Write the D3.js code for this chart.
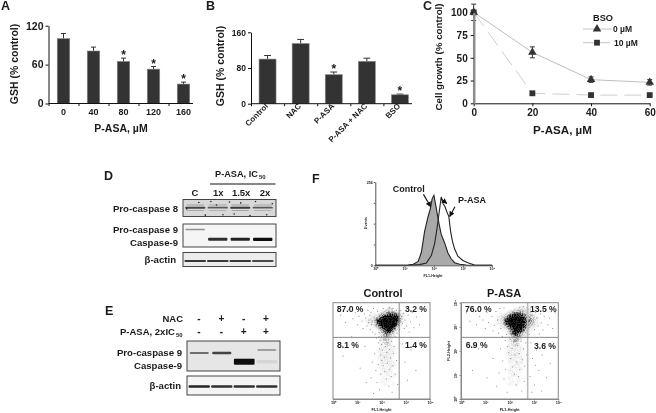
<!DOCTYPE html>
<html>
<head>
<meta charset="utf-8">
<script src="https://cdn.jsdelivr.net/npm/d3@7"></script>
<style>
html,body{margin:0;padding:0;background:#fff}
svg{display:block;filter:blur(0.35px)}
text{font-family:"Liberation Sans",Arial,sans-serif;font-weight:bold;fill:#1a1a1a}
</style>
</head>
<body>
<svg id="fig" width="656" height="413"></svg>
<script>
// ---------- panel A
const aCategories = ["0","40","80","120","160"];
const aValues = [100,81,65,53,30];
const aErrors = [8,6,5,4,3];
const aStars = [0,0,1,1,1];
const aTicks = [0,60,120];
// ---------- panel B
const bCategories = ["Control","NAC","P-ASA","P-ASA + NAC","BSO"];
const bValues = [100,135,65,95,20];
const bErrors = [8,9,6,7,1.5];
const bStars = [0,0,1,0,1];
const bTicks = [0,80,160];
// ---------- panel C
const cDoses = [0,20,40,60];
const c0uM = [100,56,26,23];
const c0uMErr = [9,6,3,3];
const c10uM = [100,11,9,9];
const c10uMErr = [1,2,1,1];
const cYTicks = [0,25,50,75,100];
// ---------- blots (band intensity per lane)
const dTop = ["C","1x","1.5x","2x"];
const dCasp8 = [.72,.62,.78,.62];
const dPro9 = [.42,0,0,0];
const dCasp9 = [0,.85,.9,1];
const dActin = [.8,.8,.8,.72];
const eNAC = ["-","+","-","+"];
const ePASA = ["-","-","+","+"];
const ePro9 = [.55,.75,0,.32];
const eCasp9 = [0,0,1,.07];
const eActin = [.9,.85,.85,.85];
// ---------- panel F histogram: [log10 FL1, count]
const histControl = [[0,0],[.39,0],[1.13,1],[1.3,3],[1.47,12],[1.58,40],[1.69,104],[1.81,150],[1.89,175],[1.95,205],[2.01,215],[2.09,175],[2.18,130],[2.26,95],[2.38,68],[2.49,38],[2.6,20],[2.72,8],[2.89,3],[3.11,1],[3.34,0],[4,0]];
const histPASA = [[0,0],[1.2,0],[1.52,2],[1.75,7],[1.92,30],[2.03,65],[2.11,110],[2.2,170],[2.26,210],[2.32,190],[2.39,180],[2.45,165],[2.52,150],[2.58,105],[2.64,75],[2.72,50],[2.83,28],[3,15],[3.17,8],[3.4,1],[3.6,0],[4,0]];
// ---------- panel F dot plots
const quadControl = ["87.0 %","3.2 %","8.1 %","1.4 %"];
const quadPASA = ["76.0 %","13.5 %","6.9 %","3.6 %"];
const densityControl = [
"00000000120000000",
"00000012332110000",
"00011134566521000",
"00111467899841000",
"01224789999941000",
"00112689999620000",
"00011368998310000",
"00000135774100000",
"00000024642000000",
"00000013421000000",
"00000012310000000",
"00000012210000000",
"00000011210000000",
"00000011111000000",
"00000111111000000",
"00000011111000000",
"00000111110000000",
"00000011110000000",
"00000011111000000",
"00000010111000000",
"00000011010000000",
"00000001110000000",
"00000010101000000",
"00000001010000000",
"00000010100000000",
"00000001001000000"];
const densityPASA = [
"00000000112110000",
"00000012333221000",
"00011246765432100",
"00112479998543210",
"00113789999654210",
"00112689999643210",
"00011358998531100",
"00000136886421000",
"00000025764210000",
"00000013542100000",
"00000012421000000",
"00000012310000000",
"00000011210000000",
"00000111111000000",
"00000011111000000",
"00000111110000000",
"00000011111000000",
"00000011101000000",
"00000010111000000",
"00000001110000000",
"00000010101000000",
"00000011010000000",
"00000001100000000",
"00000010010000000",
"00000001010000000",
"00000010100000000"];
const dotsControl = [[.3,3.5],[.5,3.2],[.62,3.72],[.8,3.35],[.9,3.6],[1,3.1],[1.05,3.45],[1.12,3.78],[1.18,3.25],[1.22,2.95],[1.28,3.55],[1.33,3.38],[1.38,3.05],[1.42,3.7],[1.45,3.2],[1.5,3.5],[1.52,2.9],[1.55,3.62],[1.58,3.12],[1.62,2.8],[1.65,3.78],[1.68,3.42],[1.72,2.72],[1.75,3.05],[1.78,2.55],[1.82,3.66],[1.85,2.35],[1.88,2.62],[1.9,2.1],[1.92,2.45],[1.95,1.85],[1.98,2.28],[2,1.62],[2.02,2.05],[2.05,1.4],[2.08,2.5],[2.1,1.75],[2.12,1.15],[2.15,2.2],[2.18,.85],[2.2,1.95],[2.22,1.5],[2.25,2.35],[2.28,.55],[2.3,1.25],[2.32,2.08],[2.35,1.72],[2.38,.95],[2.4,2.42],[2.42,.3],[2.45,1.4],[2.48,1.9],[2.5,2.2],[2.55,1.05],[2.6,1.62],[2.65,.62],[1.7,1.9],[1.75,1.2],[1.8,.7],[1.85,1.45],[1.9,.4],[1.95,1.05],[1.6,1.55],[1.55,.9],[1.65,.25],[2.78,3.7],[2.82,3.45],[2.85,3.15],[2.88,3.58],[2.92,2.95],[2.95,3.3],[3,3.75],[3.02,3.05],[3.08,3.5],[3.12,2.8],[3.18,3.22],[3.25,3.62],[3.32,2.98],[3.42,3.42],[3.55,3.1],[2.85,2.3],[2.95,1.55],[3.05,.8],[3.2,2.05],[3.4,1.2],[.75,2.6],[.4,1.8],[1.1,1.3],[1.3,2.2],[1.35,.7],[2.05,3.78],[2.3,3.82],[2.45,3.78],[2.6,3.7],[2.7,3.2],[2.72,2.9],[2.62,2.75],[2.55,2.6],[1.98,2.6],[1.88,2.78]];
const dotsPASA = [[.2,3.6],[.35,3.25],[.5,3.75],[.62,3.1],[.75,3.45],[.88,3.3],[.98,2.95],[1.05,3.62],[1.12,3.2],[1.2,3.78],[1.25,3.45],[1.3,2.85],[1.35,3.08],[1.42,3.65],[1.48,3.3],[1.52,2.75],[1.58,3.78],[1.62,2.95],[1.68,2.62],[1.75,3.8],[1.8,2.45],[1.85,2.7],[1.9,2.2],[1.95,1.95],[2,2.5],[2.02,1.7],[2.08,2.12],[2.1,1.35],[2.15,2.4],[2.18,1.05],[2.2,1.85],[2.25,.6],[2.28,1.55],[2.3,2.25],[2.35,.95],[2.38,1.9],[2.4,1.25],[2.45,2.42],[2.48,.35],[2.5,1.65],[2.55,2.1],[2.58,.75],[2.6,1.38],[2.65,2.35],[2.68,1.85],[1.7,1.6],[1.75,.85],[1.82,1.25],[1.88,.3],[1.6,2.1],[1.55,1.1],[1.45,.55],[1.3,1.7],[1.05,.9],[.7,2.1],[.45,1.2],[2.82,3.75],[2.88,3.5],[2.95,3.25],[3,2.9],[3.05,3.62],[3.1,3.38],[3.15,3.05],[3.2,2.72],[3.25,3.55],[3.28,3.18],[3.35,2.88],[3.4,3.45],[3.48,3.72],[3.55,3.1],[3.62,3.38],[3.75,2.95],[3.85,3.6],[2.85,2.35],[2.92,1.7],[3,.6],[3.08,2.05],[3.18,1.2],[3.3,.35],[3.32,1.85],[3.45,2.3],[3.5,.9],[3.65,1.5],[2.82,.95],[2.9,.3],[3.05,1.42],[2.72,2.55],[2.78,2.7],[2.4,3.82],[2.55,3.85],[2.7,3.82]];
const speckles = [[.17,.18],[.3,.12],[.36,.32],[.43,.9],[.62,.2],[.78,.12],[.55,.85],[.9,.9],[.04,.55],[.96,.25],[.72,.95],[.24,.92],[.5,.15]];

const svg = d3.select("#fig");
const text = (g,x,y,s,size,anchor) => g.append("text").attr("x",x).attr("y",y).attr("font-size",size).attr("text-anchor",anchor||"start").text(s);
const styleAxis = (g,size) => {
  g.selectAll("path,line").attr("stroke","#111").attr("stroke-width",1);
  g.selectAll("text").attr("font-size",size).attr("fill","#1a1a1a");
};
const defs = svg.append("defs");
defs.append("filter").attr("id","b1").attr("x","-30%").attr("y","-150%").attr("width","160%").attr("height","400%")
  .append("feGaussianBlur").attr("stdDeviation",.6);
defs.append("filter").attr("id","coreBlur").attr("x","-20%").attr("y","-20%").attr("width","140%").attr("height","140%")
  .append("feGaussianBlur").attr("stdDeviation",1.1);
const grain = defs.append("filter").attr("id","grain").attr("x","-5%").attr("y","-5%").attr("width","110%").attr("height","110%");
grain.append("feGaussianBlur").attr("in","SourceGraphic").attr("stdDeviation",.9).attr("result","soft");
grain.append("feTurbulence").attr("type","fractalNoise").attr("baseFrequency",.8).attr("numOctaves",2).attr("seed",4).attr("result","noise");
grain.append("feColorMatrix").attr("in","noise").attr("type","matrix")
  .attr("values","0 0 0 0 0  0 0 0 0 0  0 0 0 0 0  6 0 0 0 -2.4").attr("result","mask");
grain.append("feComposite").attr("in","soft").attr("in2","mask").attr("operator","arithmetic").attr("k1",1.1).attr("k2",.4).attr("k3",0).attr("k4",0);
defs.append("marker").attr("id","ah").attr("viewBox","0 0 10 10").attr("refX",9).attr("refY",5)
  .attr("markerWidth",5).attr("markerHeight",5).attr("orient","auto")
  .append("path").attr("d","M0,0L10,5L0,10z").attr("fill","#111");

// panel letters
[["A",1,9.5],["B",206,9.5],["C",423,9.5],["D",104,180],["E",105,314.7],["F",312,182.7]].forEach(d=>text(svg,d[1],d[2],d[0],12.5));

// ---------- bar panels
function barPanel(o){
  const g = svg.append("g");
  const x = d3.scaleBand().domain(o.cats).range([o.x0,o.x0+o.band*o.cats.length]);
  const edges = d3.scaleLinear().domain([0,o.cats.length]).range([o.x0,o.x0+o.band*o.cats.length]);
  const y = d3.scaleLinear().domain([0,o.ticks[o.ticks.length-1]]).range([o.y0,o.y1]);
  const barX = d => x(d)+x.bandwidth()/2 - o.w/2;
  const cx = d => barX(d)+o.w/2;
  g.selectAll(".err").data(o.cats).join("line").attr("x1",cx).attr("x2",cx)
    .attr("y1",(d,i)=>y(o.vals[i])).attr("y2",(d,i)=>y(o.vals[i]+o.errs[i])).attr("stroke","#333").attr("stroke-width",1);
  g.selectAll(".cap").data(o.cats).join("line").attr("x1",d=>cx(d)-o.w*.2).attr("x2",d=>cx(d)+o.w*.2)
    .attr("y1",(d,i)=>y(o.vals[i]+o.errs[i])).attr("y2",(d,i)=>y(o.vals[i]+o.errs[i])).attr("stroke","#333").attr("stroke-width",1);
  g.selectAll(".bar").data(o.cats).join("rect").attr("x",barX).attr("width",o.w)
    .attr("y",(d,i)=>y(o.vals[i])).attr("height",(d,i)=>o.y0-y(o.vals[i]))
    .attr("fill","#333").attr("stroke","#8a8a8a").attr("stroke-width",.6);
  g.selectAll(".star").data(o.cats).join("text").attr("x",cx).attr("y",(d,i)=>y(o.vals[i]+o.errs[i])+1)
    .attr("text-anchor","middle").attr("font-size",12).text((d,i)=>o.stars[i]?"*":"");
  const ax = g.append("g").attr("transform",`translate(0,${o.y0})`)
    .call(d3.axisBottom(edges).tickValues(d3.range(o.cats.length)).tickSize(2.5).tickSizeOuter(0).tickFormat(""));
  ax.select("path").attr("d",`M${o.x0},0H${o.xEnd}`);
  styleAxis(ax,10);
  const yA = g.append("g").attr("transform",`translate(${o.x0},0)`)
    .call(d3.axisLeft(y).tickValues(o.ticks).tickSize(3).tickSizeOuter(0).tickPadding(2));
  styleAxis(yA,o.tickSize);
  const lab = g.append("g").attr("transform",`translate(0,${o.y0})`)
    .call(d3.axisBottom(x).tickSize(0).tickPadding(o.pad));
  lab.select("path").remove();
  lab.selectAll("text").attr("font-size",o.catSize).attr("fill","#1a1a1a");
  if(o.rot){
    lab.selectAll("text").attr("text-anchor","end").attr("dy",0)
      .attr("transform",`translate(1,${o.pad-2}) rotate(-45) translate(0,${-o.pad})`);
  }
  text(g,0,0,"GSH (% control)",o.titleSize,"middle").attr("transform",`translate(${o.tx},${o.ty}) rotate(-90)`);
  return g;
}
const gA = barPanel({cats:aCategories,vals:aValues,errs:aErrors,stars:aStars,ticks:aTicks,x0:48.5,band:30,xEnd:193,y0:103.5,y1:25.7,w:12.5,tickSize:10.5,catSize:9,pad:5,tx:18,ty:64,titleSize:10.5});
text(gA,121,132,"P-ASA, µM",10.5,"middle");
barPanel({cats:bCategories,vals:bValues,errs:bErrors,stars:bStars,ticks:bTicks,x0:251,band:33.1,xEnd:412,y0:103.7,y1:32.3,w:17,tickSize:8.5,catSize:8,pad:5,rot:true,tx:224,ty:66,titleSize:10.5});

// ---------- panel C
const gC = svg.append("g");
const xC = d3.scaleLinear().domain([0,60]).range([473.7,649.7]);
const yC = d3.scaleLinear().domain([0,100]).range([103.3,12.3]);
const lineC = vals => d3.line().x((d,i)=>xC(cDoses[i])).y(d=>yC(d))(vals);
gC.append("path").attr("d",lineC(c0uM)).attr("fill","none").attr("stroke","#bdbdbd").attr("stroke-width",1);
gC.append("path").attr("d",lineC(c10uM)).attr("fill","none").attr("stroke","#cfcfcf").attr("stroke-width",1).attr("stroke-dasharray","17 7");
const triangle = d3.symbol().type(d3.symbolTriangle).size(32);
const square = d3.symbol().type(d3.symbolSquare).size(34);
[[c0uM,c0uMErr],[c10uM,c10uMErr]].forEach(([v,e])=>{
  const ge = gC.append("g").attr("stroke","#333").attr("stroke-width",1);
  cDoses.forEach((d,i)=>{
    ge.append("line").attr("x1",xC(d)).attr("x2",xC(d)).attr("y1",yC(v[i]-e[i])).attr("y2",yC(v[i]+e[i]));
    ge.append("line").attr("x1",xC(d)-2.5).attr("x2",xC(d)+2.5).attr("y1",yC(v[i]+e[i])).attr("y2",yC(v[i]+e[i]));
    ge.append("line").attr("x1",xC(d)-2.5).attr("x2",xC(d)+2.5).attr("y1",yC(v[i]-e[i])).attr("y2",yC(v[i]-e[i]));
  });
});
gC.selectAll(".tri").data(c0uM).join("path").attr("d",triangle).attr("fill","#333")
  .attr("transform",(d,i)=>`translate(${xC(cDoses[i])},${yC(d)})`);
gC.selectAll(".sq").data(c10uM).join("path").attr("d",square).attr("fill","#333")
  .attr("transform",(d,i)=>`translate(${xC(cDoses[i])},${yC(d)})`);
const axCx = gC.append("g").attr("transform","translate(0,103.3)")
  .call(d3.axisBottom(xC).tickValues(cDoses).tickSize(3).tickSizeOuter(0).tickPadding(3));
styleAxis(axCx,10);
const axCy = gC.append("g").attr("transform","translate(473.7,0)")
  .call(d3.axisLeft(yC).tickValues(cYTicks).tickSize(3).tickSizeOuter(0).tickPadding(3));
styleAxis(axCy,10);
axCy.select("path").attr("stroke","#8c8c8c").attr("stroke-width",2.5);
text(gC,0,0,"Cell growth (% control)",9.8,"middle").attr("transform","translate(442,57) rotate(-90)");
text(gC,562.5,134,"P-ASA, µM",11.6,"middle");
text(gC,593,20.5,"BSO",9.2);
gC.append("line").attr("x1",583).attr("x2",612).attr("y1",29).attr("y2",29).attr("stroke","#c4c4c4");
gC.append("path").attr("d",triangle).attr("fill","#333").attr("transform","translate(597,29)");
text(gC,613,32,"0 µM",8.5);
gC.append("line").attr("x1",583).attr("x2",612).attr("y1",42.7).attr("y2",42.7).attr("stroke","#c4c4c4").attr("stroke-dasharray","12 3");
gC.append("path").attr("d",square).attr("fill","#333").attr("transform","translate(597,42.7)");
text(gC,614,46,"10 µM",8.5);

// ---------- blots
function blot(o){
  const g = svg.append("g");
  const lanes = d3.scaleBand().domain(d3.range(4)).range(o.lanes);
  g.append("rect").attr("x",o.x).attr("y",o.y).attr("width",o.w).attr("height",o.h)
    .attr("fill",o.bg).attr("stroke","#444").attr("stroke-width",1);
  const inner = g.append("g");
  o.rows.forEach(r=>{
    inner.selectAll(null).data(r.v).join("rect")
      .attr("x",(d,i)=>lanes(i)+lanes.bandwidth()*(1-r.len)/2)
      .attr("width",lanes.bandwidth()*r.len)
      .attr("y",(d,i)=>r.y-(r.th*(.55+.45*d))/2+(r.dy?r.dy[i]:0))
      .attr("height",d=>r.th*(.55+.45*d))
      .attr("rx",1).attr("fill","#111").attr("opacity",d=>d).attr("filter","url(#b1)");
  });
  if(o.spk){
    const sx = d3.scaleLinear().range([o.x,o.x+o.w]);
    const sy = d3.scaleLinear().range([o.y,o.y+o.h]);
    g.selectAll(null).data(o.spk).join("circle").attr("cx",d=>sx(d[0])).attr("cy",d=>sy(d[1])).attr("r",.8).attr("fill","#222");
  }
  return g;
}
blot({x:183,y:199.5,w:93,h:17,bg:"#d8d8d8",lanes:[184,274],spk:speckles,rows:[
  {v:dCasp8,y:207.7,th:2.2,len:.9},
  {v:dCasp8.map(d=>d*.4),y:205,th:1.4,len:.82},
  {v:dCasp8.map(d=>d*.3),y:210.5,th:1.2,len:.8}]});
blot({x:183,y:224,w:93,h:23,bg:"#f5f5f5",lanes:[184,274],rows:[
  {v:dPro9,y:229.5,th:2.2,len:.88},{v:dCasp9,y:239.3,th:3.2,len:.86}]});
blot({x:183,y:252.5,w:93,h:14,bg:"#ececec",lanes:[184,274],rows:[{v:dActin,y:261,th:2.2,len:.96}]});
blot({x:187,y:341,w:93,h:30,bg:"#e6e6e6",lanes:[188,278],rows:[
  {v:ePro9,y:353,th:2.6,len:.85,dy:[0,0,0,-3]},{v:eCasp9,y:361.7,th:6,len:.92}]});
blot({x:187,y:376,w:93,h:19,bg:"#f4f4f4",lanes:[188,278],rows:[{v:eActin,y:386.5,th:2.6,len:.95}]});

const gD = svg.append("g");
text(gD,215,177,"P-ASA, IC",9.2);
text(gD,259,179,"50",6);
gD.append("line").attr("x1",210).attr("x2",275.5).attr("y1",184).attr("y2",184).attr("stroke","#111");
const dLanes = d3.scalePoint().domain(dTop).range([195,265]);
gD.selectAll(null).data(dTop).join("text").attr("x",d=>dLanes(d)+(d==="1.5x"?-.5:0)).attr("y",195.5)
  .attr("text-anchor","middle").attr("font-size",9.5).text(d=>d);
text(gD,178,212,"Pro-caspase 8",9.6,"end");
text(gD,178,232.5,"Pro-caspase 9",9.6,"end");
text(gD,178,246,"Caspase-9",9.6,"end");
text(gD,176,263,"β-actin",9.6,"end");

const gE = svg.append("g");
const eLanes = d3.scalePoint().domain(d3.range(4)).range([199,266]);
text(gE,183,322,"NAC",9.5,"end");
text(gE,120,335,"P-ASA, 2xIC",9.5);
text(gE,176,337,"50",6);
gE.selectAll(null).data(eNAC).join("text").attr("x",(d,i)=>eLanes(i)).attr("y",322).attr("text-anchor","middle").attr("font-size",10).text(d=>d);
gE.selectAll(null).data(ePASA).join("text").attr("x",(d,i)=>eLanes(i)).attr("y",335).attr("text-anchor","middle").attr("font-size",10).text(d=>d);
text(gE,182,356,"Pro-caspase 9",9.6,"end");
text(gE,182,369,"Caspase-9",9.6,"end");
text(gE,181,389,"β-actin",9.6,"end");

// ---------- panel F histogram
const gH = svg.append("g");
const xH = d3.scaleLinear().domain([0,4]).range([375.3,492]);
const yH = d3.scaleLinear().domain([0,256]).range([265.3,182]);
const supers = ["⁰","¹","²","³","⁴"];
const area = d3.area().x(d=>xH(d[0])).y0(yH(0)).y1(d=>yH(d[1]));
const hline = d3.line().x(d=>xH(d[0])).y(d=>yH(d[1]));
gH.append("path").attr("d",area(histControl)).attr("fill","#a9a9a9");
gH.append("path").attr("d",hline(histControl)).attr("fill","none").attr("stroke","#222").attr("stroke-width",1.1);
gH.append("path").attr("d",hline(histPASA)).attr("fill","none").attr("stroke","#222").attr("stroke-width",1.1);
const hx = gH.append("g").attr("transform","translate(0,265.3)")
  .call(d3.axisBottom(xH).tickValues(d3.range(5)).tickSize(1.5).tickSizeOuter(0).tickPadding(1).tickFormat(d=>"10"+supers[d]));
styleAxis(hx,3.6);
const hy = gH.append("g").attr("transform","translate(375.3,0)")
  .call(d3.axisLeft(yH).tickValues([0,64,128,192,256]).tickSize(1.5).tickSizeOuter(0).tickPadding(1).tickFormat(d=>d===0||d===256?d:""));
styleAxis(hy,3.6);
hy.selectAll("path,line").attr("stroke","#555");
hx.selectAll("path,line").attr("stroke","#555");
text(gH,433,277,"FL1-Height",3.6,"middle");
text(gH,0,0,"Events",3.6,"middle").attr("transform","translate(367,223) rotate(-90)");
text(gH,392.7,192,"Control",9);
text(gH,458,203,"P-ASA",9);
const arrow = (a,b,c,e)=>gH.append("line").attr("x1",xH(a)).attr("y1",yH(b)).attr("x2",xH(c)).attr("y2",yH(e))
  .attr("stroke","#111").attr("stroke-width",1.1).attr("marker-end","url(#ah)");
arrow(1.65,218,1.9,180);
arrow(2.25,205,2.45,190);
arrow(2.73,180,2.55,150);

// ---------- panel F dot plots
function dotPlot(o){
  const g = svg.append("g");
  const x = d3.scaleLinear().domain([0,4]).range([o.x0,o.x1]);
  const y = d3.scaleLinear().domain([0,4]).range([399,302.7]);
  g.append("rect").attr("x",o.x0).attr("y",302.7).attr("width",o.x1-o.x0).attr("height",96.3).attr("fill","#fff");
  const cells = (host,op) => o.density.forEach((row,j)=>{
    host.selectAll(null).data(row.split("").map(Number)).join("rect")
      .attr("x",(d,i)=>x(1.25+.125*i-.0625)).attr("width",x(.125)-x(0))
      .attr("y",y(3.75-.125*j+.0625)).attr("height",y(0)-y(.125))
      .attr("fill","#000").attr("opacity",op);
  });
  cells(g.append("g").attr("filter","url(#grain)"), d=>Math.min(1,Math.pow(d/8,1.3)));
  cells(g.append("g").attr("filter","url(#coreBlur)"), d=>d>=7?.85:d>=5?.35:0);
  g.selectAll(null).data(o.dots).join("rect").attr("x",d=>x(d[0])).attr("y",d=>y(d[1]))
    .attr("width",.9).attr("height",.9).attr("fill","#777");
  g.append("line").attr("x1",x(o.vq)).attr("x2",x(o.vq)).attr("y1",302.7).attr("y2",399).attr("stroke",o.vColor).attr("stroke-width",o.vW);
  g.append("line").attr("x1",o.x0).attr("x2",o.x1).attr("y1",y(2.56)).attr("y2",y(2.56)).attr("stroke","#888");
  g.append("rect").attr("x",o.x0).attr("y",302.7).attr("width",o.x1-o.x0).attr("height",96.3).attr("fill","none").attr("stroke","#888");
  const ax = g.append("g").attr("transform","translate(0,399)")
    .call(d3.axisBottom(x).tickValues(d3.range(5)).tickSize(1.5).tickSizeOuter(0).tickPadding(1).tickFormat(d=>"10"+supers[d]));
  styleAxis(ax,3.8); ax.selectAll("path,line").attr("stroke","#888");
  text(g,(o.x0+o.x1)/2,411,"FL1-Height",3.8,"middle");
  text(g,o.tx,297,o.title,11,"middle");
  o.quad.forEach((s,i)=>text(g,o.qx[i],o.qy[i],s,8.6));
  if(o.yAxis){
    const ay = g.append("g").attr("transform",`translate(${o.x0},0)`)
      .call(d3.axisLeft(y).tickValues(d3.range(5)).tickSize(1.5).tickSizeOuter(0).tickPadding(1).tickFormat(d=>"10"+supers[d]));
    styleAxis(ay,3.8); ay.selectAll("path,line").attr("stroke","#888");
    ay.selectAll("text").attr("text-anchor","middle").attr("transform","translate(-4,0) rotate(-90)").attr("x",0).attr("dy",0);
    text(g,0,0,"FL2-Height",3.8,"middle").attr("transform",`translate(${o.x0-11},351) rotate(-90)`);
  }
}
dotPlot({x0:333,x1:430,density:densityControl,dots:dotsControl,vq:2.73,vColor:"#888",vW:1,title:"Control",tx:383,quad:quadControl,qx:[336.7,405,337,405],qy:[312,312,348,348]});
dotPlot({x0:461,x1:558.3,density:densityPASA,dots:dotsPASA,vq:2.74,vColor:"#bbb",vW:1.6,title:"P-ASA",tx:504,quad:quadPASA,qx:[465,530,465.7,534],qy:[312,312,348,349],yAxis:true});
</script>
</body>
</html>
